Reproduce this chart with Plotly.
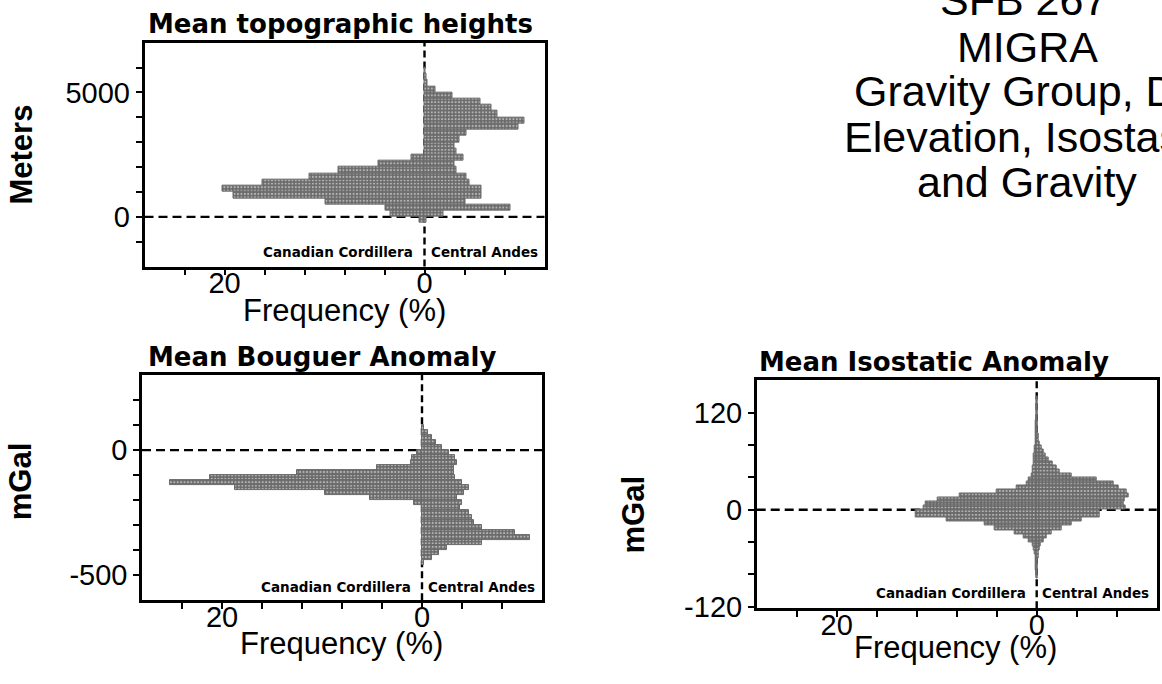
import plotly.graph_objects as go

W, H = 1162, 684

# ---------------- data ----------------
# Panel 1: Mean topographic heights (m), 250 m bins, frequency in %
topo_cc_y = [-125, 125, 375, 625, 875, 1125, 1375, 1625, 1875, 2125, 2375]
topo_cc_f = [0.5, 3.4, 3.9, 9.9, 19.1, 20.2, 16.2, 11.5, 8.6, 4.6, 1.3]
topo_ca_y = [-125, 125, 375, 625, 875, 1125, 1375, 1625, 1875, 2125, 2375, 2625, 2875,
             3125, 3375, 3625, 3875, 4125, 4375, 4625, 4875, 5125, 5375, 5625, 5875]
topo_ca_f = [0.15, 1.9, 8.6, 4.1, 5.7, 5.7, 4.5, 4.2, 3.2, 3.0, 3.9, 3.2, 3.0,
             3.5, 4.2, 9.4, 10.0, 7.3, 6.7, 5.6, 2.8, 1.1, 0.3, 0.15, 0.08]

# Panel 2: Mean Bouguer anomaly (mGal), 20 mGal bins
boug_cc_y = [-10, -30, -50, -70, -90, -110, -130, -150, -170, -190, -210]
boug_cc_f = [0.5, 1.0, 1.1, 4.5, 12.5, 21.2, 25.2, 18.7, 9.7, 5.2, 0.8]
boug_ca_y = [90, 70, 50, 30, 10, -10, -30, -50, -70, -90, -110, -130, -150, -170,
             -190, -210, -230, -250, -270, -290, -310, -330, -350, -370, -390, -410, -430, -450]
boug_ca_f = [0.2, 0.6, 1.0, 1.4, 2.0, 2.7, 3.3, 3.5, 3.2, 3.2, 3.3, 4.0, 4.7, 4.2,
             3.5, 4.0, 3.8, 4.7, 5.0, 5.2, 6.0, 9.3, 10.8, 6.0, 2.5, 1.7, 1.0, 0.2]

# Panel 3: Mean isostatic anomaly (mGal), 5 mGal bins
iso_y = [137.5, 132.5, 127.5, 122.5, 117.5, 112.5, 107.5, 102.5, 97.5, 92.5, 87.5, 82.5, 77.5,
         72.5, 67.5, 62.5, 57.5, 52.5, 47.5, 42.5, 37.5, 32.5, 27.5, 22.5, 17.5, 12.5, 7.5, 2.5,
         -2.5, -7.5, -12.5, -17.5, -22.5, -27.5, -32.5, -37.5, -42.5, -47.5, -52.5, -57.5,
         -62.5, -67.5, -72.5, -77.5, -82.5]
iso_cc_f = [0.03, 0.03, 0.04, 0.04, 0.05, 0.05, 0.06, 0.07, 0.08, 0.1, 0.12, 0.15, 0.2,
            0.25, 0.3, 0.3, 0.35, 0.4, 0.45, 0.5, 0.8, 1.0, 2.0, 4.0, 7.7, 9.9, 11.1, 11.3,
            12.1, 12.1, 9.0, 5.2, 4.2, 2.2, 1.3, 0.8, 0.4, 0.3, 0.2, 0.15,
            0.12, 0.1, 0.08, 0.05, 0.05]
iso_ca_f = [0.05, 0.05, 0.05, 0.05, 0.06, 0.07, 0.08, 0.1, 0.12, 0.15, 0.2, 0.3, 0.45,
            0.7, 0.9, 1.2, 1.6, 2.0, 2.3, 3.5, 6.0, 7.7, 8.2, 9.0, 9.2, 8.8, 8.7, 8.9,
            6.3, 6.3, 4.5, 3.5, 2.5, 1.5, 1.0, 0.7, 0.4, 0.3, 0.2, 0.15,
            0.12, 0.1, 0.08, 0.05, 0.05]

x_tickvals = [24, 20, 16, 12, 8, 4, 0, -4, -8]
x_ticktext = ["", "20", "", "", "", "", "0", "", ""]

topo_tickvals = [-1000, 0, 1000, 2000, 3000, 4000, 5000, 6000]
topo_ticktext = ["", "0", "", "", "", "", "5000", ""]
boug_tickvals = [200, 100, 0, -100, -200, -300, -400, -500]
boug_ticktext = ["", "", "0", "", "", "", "", "-500"]
iso_tickvals = [120, 80, 40, 0, -40, -80, -120]
iso_ticktext = ["120", "", "", "0", "", "", "-120"]

titles = ["Mean topographic heights", "Mean Bouguer Anomaly", "Mean Isostatic Anomaly"]
ytitles = ["Meters", "mGal", "mGal"]
header = ["SFB 267", "MIGRA", "Gravity Group, D", "Elevation, Isostasy", "and Gravity"]

# ---------------- styling ----------------
GRAY = "#6a6a6a"
ARIAL = "Liberation Sans, Arial, sans-serif"
WIDE = "DejaVu Sans, sans-serif"


def dom_x(l, r):
    return [l / W, r / W]


def dom_y(t, b):
    return [1 - b / H, 1 - t / H]


panels = [
    dict(n="", xdom=(144.5, 544.5), ydom=(43.6, 272.6), yrange=[-2000, 7000],
         tv=topo_tickvals, tt=topo_ticktext, binw=250,
         cc=(topo_cc_y, topo_cc_f), ca=(topo_ca_y, topo_ca_f),
         lab_dy=14.3, cc_dx=-10, ca_dx=4),
    dict(n="2", xdom=(142, 542), ydom=(383.5, 613.6), yrange=[-600, 300],
         tv=boug_tickvals, tt=boug_ticktext, binw=20,
         cc=(boug_cc_y, boug_cc_f), ca=(boug_ca_y, boug_ca_f),
         lab_dy=13.5, cc_dx=-9, ca_dx=4),
    dict(n="3", xdom=(756.7, 1156.7), ydom=(389, 622), yrange=[-122, 160],
         tv=iso_tickvals, tt=iso_ticktext, binw=5,
         cc=(iso_y, iso_cc_f), ca=(iso_y, iso_ca_f),
         lab_dy=15.5, cc_dx=-9, ca_dx=3),
]


def marker():
    return dict(color=GRAY, line=dict(color=GRAY, width=1),
                pattern=dict(shape=".", fillmode="overlay", fgcolor="white",
                             size=3.4, solidity=0.3))


fig = go.Figure()
layout_axes = {}
shapes = []
annotations = []

for p in panels:
    n = p["n"]
    xa, ya = "x" + n, "y" + n
    cy, cf = p["cc"]
    ay, af = p["ca"]
    fig.add_trace(go.Bar(y=cy, x=cf, orientation="h", width=p["binw"], base=0,
                         xaxis=xa, yaxis=ya, marker=marker(),
                         showlegend=False, hoverinfo="skip"))
    fig.add_trace(go.Bar(y=ay, x=[-v for v in af], orientation="h", width=p["binw"], base=0,
                         xaxis=xa, yaxis=ya, marker=marker(),
                         showlegend=False, hoverinfo="skip"))
    layout_axes["xaxis" + n] = dict(
        domain=dom_x(*p["xdom"]), anchor=ya, range=[28, -12],
        tickmode="array", tickvals=x_tickvals, ticktext=x_ticktext,
        ticks="outside", ticklen=6, tickwidth=2, tickcolor="black",
        showline=True, linewidth=2.5, linecolor="black", mirror=True,
        showgrid=False, zeroline=False, ticklabelstandoff=-17,
        tickfont=dict(family=ARIAL, size=29, color="black"), fixedrange=True)
    layout_axes["yaxis" + n] = dict(
        domain=dom_y(*p["ydom"]), anchor=xa, range=p["yrange"],
        tickmode="array", tickvals=p["tv"], ticktext=p["tt"],
        ticks="outside", ticklen=6, tickwidth=2, tickcolor="black",
        showline=True, linewidth=2.5, linecolor="black", mirror=True,
        showgrid=False, zeroline=False,
        tickfont=dict(family=ARIAL, size=29, color="black"), fixedrange=True)
    # dashed zero lines (under the bars)
    shapes.append(dict(type="line", xref=xa + " domain", x0=0, x1=1, yref=ya, y0=0, y1=0,
                       line=dict(color="black", width=2.4, dash="9px,5px"), layer="below"))
    shapes.append(dict(type="line", xref=xa, x0=0, x1=0, yref=ya + " domain", y0=0, y1=1,
                       line=dict(color="black", width=2.4, dash="7px,4px"), layer="below"))
    # region labels
    annotations.append(dict(text="<b>Canadian Cordillera</b>", xref=xa, x=0,
                            yref=ya + " domain", y=0, xanchor="right", yanchor="middle",
                            xshift=p["cc_dx"], yshift=p["lab_dy"], showarrow=False,
                            font=dict(family=WIDE, size=13.5, color="black")))
    annotations.append(dict(text="<b>Central Andes</b>", xref=xa, x=0,
                            yref=ya + " domain", y=0, xanchor="left", yanchor="middle",
                            xshift=p["ca_dx"], yshift=p["lab_dy"], showarrow=False,
                            font=dict(family=WIDE, size=13.5, color="black")))


def ann(text, x, y, size, family, xanchor="center", angle=0):
    return dict(text=text, x=x / W, y=1 - y / H, xref="paper", yref="paper",
                xanchor=xanchor, yanchor="middle", showarrow=False, textangle=angle,
                font=dict(size=size, family=family, color="black"))


# panel titles
annotations.append(ann("<b>" + titles[0] + "</b>", 146, 24.5, 26, WIDE, "left"))
annotations.append(ann("<b>" + titles[1] + "</b>", 146, 364.5, 26, WIDE, "left"))
annotations.append(ann("<b>" + titles[2] + "</b>", 757, 370.5, 26, WIDE, "left"))
# y titles
annotations.append(ann("<b>" + ytitles[0] + "</b>", 22, 158, 31, ARIAL, "center", -90))
annotations.append(ann("<b>" + ytitles[1] + "</b>", 20, 492, 31, ARIAL, "center", -90))
annotations.append(ann("<b>" + ytitles[2] + "</b>", 633, 526, 31, ARIAL, "center", -90))
# x titles
annotations.append(ann("Frequency (%)", 344, 317, 31, ARIAL))
annotations.append(ann("Frequency (%)", 341, 658, 31, ARIAL))
annotations.append(ann("Frequency (%)", 955, 662, 31, ARIAL))
# header block (partly cut by page edge)
annotations.append(ann(header[0], 1023, 0, 43, ARIAL))
annotations.append(ann(header[1], 1027, 48, 43, ARIAL))
annotations.append(ann(header[2], 852, 93, 43, ARIAL, "left"))
annotations.append(ann(header[3], 842, 140, 43, ARIAL, "left"))
annotations.append(ann(header[4], 1027, 186, 43, ARIAL))

fig.update_layout(
    width=W, height=H, autosize=False,
    margin=dict(l=0, r=0, t=0, b=0, pad=0),
    paper_bgcolor="white", plot_bgcolor="white",
    barmode="overlay", bargap=0,
    shapes=shapes, annotations=annotations,
    **layout_axes,
)

fig.write_html("out.html", config={"displayModeBar": False})
